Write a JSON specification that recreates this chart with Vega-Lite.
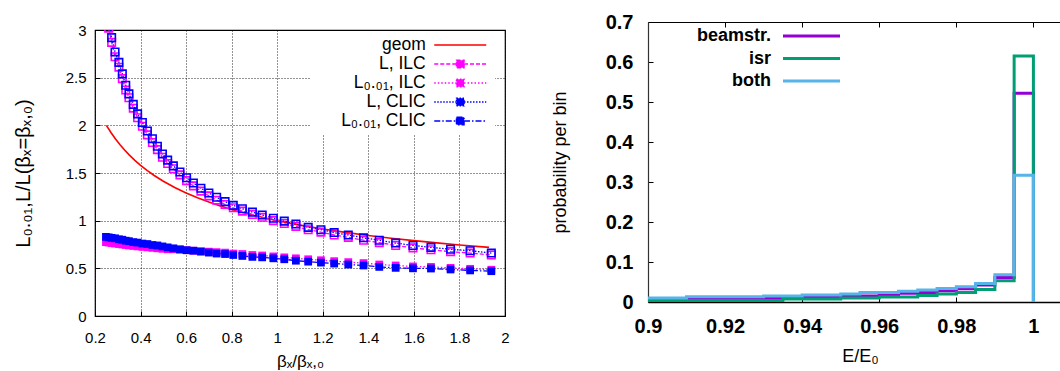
{
  "$schema": "https://vega.github.io/schema/vega-lite/v6.json",
  "background": "white",
  "padding": {"left": 12, "top": 12, "right": 0, "bottom": 0},
  "spacing": 40,
  "resolve": {"scale": {"color": "independent", "strokeDash": "independent"}, "legend": {"color": "independent"}},
  "config": {
    "font": "Liberation Sans",
    "axis": {"labelColor": "#000", "titleColor": "#000", "labelFlush": false, "labelOverlap": false, "labelBound": false, "titleFontWeight": "normal"},
    "legend": {"labelColor": "#000"}
  },
  "datasets": {
    "left": [
      {"b": 0.248, "Lc": 3.25, "Li": 3.2, "L1c": 0.83, "L1i": 0.775},
      {"b": 0.26, "Lc": 3.07, "Li": 3.02, "L1c": 0.825, "L1i": 0.77},
      {"b": 0.273, "Lc": 2.92, "Li": 2.87, "L1c": 0.82, "L1i": 0.765},
      {"b": 0.288, "Lc": 2.77, "Li": 2.72, "L1c": 0.815, "L1i": 0.76},
      {"b": 0.305, "Lc": 2.66, "Li": 2.61, "L1c": 0.805, "L1i": 0.755},
      {"b": 0.32, "Lc": 2.54, "Li": 2.49, "L1c": 0.8, "L1i": 0.75},
      {"b": 0.335, "Lc": 2.42, "Li": 2.37, "L1c": 0.79, "L1i": 0.745},
      {"b": 0.349, "Lc": 2.33, "Li": 2.29, "L1c": 0.785, "L1i": 0.74},
      {"b": 0.368, "Lc": 2.22, "Li": 2.18, "L1c": 0.775, "L1i": 0.735},
      {"b": 0.387, "Lc": 2.12, "Li": 2.08, "L1c": 0.77, "L1i": 0.73},
      {"b": 0.408, "Lc": 2.03, "Li": 1.99, "L1c": 0.76, "L1i": 0.725},
      {"b": 0.43, "Lc": 1.94, "Li": 1.9, "L1c": 0.755, "L1i": 0.72},
      {"b": 0.452, "Lc": 1.86, "Li": 1.82, "L1c": 0.745, "L1i": 0.715},
      {"b": 0.474, "Lc": 1.78, "Li": 1.745, "L1c": 0.74, "L1i": 0.71},
      {"b": 0.496, "Lc": 1.7, "Li": 1.665, "L1c": 0.73, "L1i": 0.705},
      {"b": 0.519, "Lc": 1.635, "Li": 1.6, "L1c": 0.72, "L1i": 0.7},
      {"b": 0.544, "Lc": 1.575, "Li": 1.545, "L1c": 0.71, "L1i": 0.7},
      {"b": 0.573, "Lc": 1.51, "Li": 1.48, "L1c": 0.7, "L1i": 0.695},
      {"b": 0.602, "Lc": 1.45, "Li": 1.42, "L1c": 0.69, "L1i": 0.69},
      {"b": 0.632, "Lc": 1.395, "Li": 1.365, "L1c": 0.685, "L1i": 0.685},
      {"b": 0.665, "Lc": 1.34, "Li": 1.31, "L1c": 0.675, "L1i": 0.68},
      {"b": 0.7, "Lc": 1.29, "Li": 1.26, "L1c": 0.665, "L1i": 0.675},
      {"b": 0.734, "Lc": 1.245, "Li": 1.215, "L1c": 0.655, "L1i": 0.67},
      {"b": 0.771, "Lc": 1.2, "Li": 1.17, "L1c": 0.65, "L1i": 0.665},
      {"b": 0.807, "Lc": 1.16, "Li": 1.135, "L1c": 0.64, "L1i": 0.655},
      {"b": 0.847, "Lc": 1.125, "Li": 1.1, "L1c": 0.63, "L1i": 0.65},
      {"b": 0.891, "Lc": 1.09, "Li": 1.065, "L1c": 0.62, "L1i": 0.64},
      {"b": 0.934, "Lc": 1.06, "Li": 1.035, "L1c": 0.615, "L1i": 0.635},
      {"b": 0.983, "Lc": 1.025, "Li": 1.0, "L1c": 0.605, "L1i": 0.625},
      {"b": 1.031, "Lc": 0.995, "Li": 0.97, "L1c": 0.595, "L1i": 0.615},
      {"b": 1.082, "Lc": 0.965, "Li": 0.94, "L1c": 0.58, "L1i": 0.605},
      {"b": 1.136, "Lc": 0.93, "Li": 0.905, "L1c": 0.57, "L1i": 0.595},
      {"b": 1.192, "Lc": 0.905, "Li": 0.88, "L1c": 0.56, "L1i": 0.585},
      {"b": 1.25, "Lc": 0.875, "Li": 0.85, "L1c": 0.55, "L1i": 0.575},
      {"b": 1.312, "Lc": 0.85, "Li": 0.825, "L1c": 0.54, "L1i": 0.565},
      {"b": 1.379, "Lc": 0.82, "Li": 0.795, "L1c": 0.53, "L1i": 0.555},
      {"b": 1.448, "Lc": 0.795, "Li": 0.77, "L1c": 0.515, "L1i": 0.54},
      {"b": 1.52, "Lc": 0.765, "Li": 0.74, "L1c": 0.505, "L1i": 0.53},
      {"b": 1.596, "Lc": 0.74, "Li": 0.715, "L1c": 0.5, "L1i": 0.52},
      {"b": 1.675, "Lc": 0.72, "Li": 0.695, "L1c": 0.498, "L1i": 0.515},
      {"b": 1.761, "Lc": 0.7, "Li": 0.675, "L1c": 0.488, "L1i": 0.505},
      {"b": 1.847, "Lc": 0.685, "Li": 0.66, "L1c": 0.478, "L1i": 0.495},
      {"b": 1.94, "Lc": 0.66, "Li": 0.64, "L1c": 0.47, "L1i": 0.485}
    ],
    "geom": [
      {"b": 0.25, "geom": 2.0}, {"b": 0.27, "geom": 1.925}, {"b": 0.29, "geom": 1.857},
      {"b": 0.31, "geom": 1.796}, {"b": 0.33, "geom": 1.741}, {"b": 0.35, "geom": 1.69},
      {"b": 0.375, "geom": 1.633}, {"b": 0.4, "geom": 1.581}, {"b": 0.43, "geom": 1.525},
      {"b": 0.46, "geom": 1.474}, {"b": 0.5, "geom": 1.414}, {"b": 0.55, "geom": 1.348},
      {"b": 0.6, "geom": 1.291}, {"b": 0.65, "geom": 1.24}, {"b": 0.7, "geom": 1.195},
      {"b": 0.75, "geom": 1.155}, {"b": 0.8, "geom": 1.118}, {"b": 0.9, "geom": 1.054},
      {"b": 1.0, "geom": 1.0}, {"b": 1.1, "geom": 0.953}, {"b": 1.2, "geom": 0.913},
      {"b": 1.3, "geom": 0.877}, {"b": 1.4, "geom": 0.845}, {"b": 1.5, "geom": 0.816},
      {"b": 1.6, "geom": 0.791}, {"b": 1.7, "geom": 0.767}, {"b": 1.8, "geom": 0.745},
      {"b": 1.93, "geom": 0.72}
    ],
    "hist": [
      {"e": 0.9, "beamstr": 0.007, "isr": 0.004, "both": 0.010},
      {"e": 0.905, "beamstr": 0.007, "isr": 0.004, "both": 0.010},
      {"e": 0.91, "beamstr": 0.008, "isr": 0.004, "both": 0.013},
      {"e": 0.915, "beamstr": 0.008, "isr": 0.004, "both": 0.013},
      {"e": 0.92, "beamstr": 0.008, "isr": 0.004, "both": 0.013},
      {"e": 0.925, "beamstr": 0.008, "isr": 0.004, "both": 0.013},
      {"e": 0.93, "beamstr": 0.0092, "isr": 0.004, "both": 0.015},
      {"e": 0.935, "beamstr": 0.0095, "isr": 0.0075, "both": 0.015},
      {"e": 0.94, "beamstr": 0.0117, "isr": 0.0075, "both": 0.0175},
      {"e": 0.945, "beamstr": 0.0117, "isr": 0.0075, "both": 0.0175},
      {"e": 0.95, "beamstr": 0.015, "isr": 0.01, "both": 0.020},
      {"e": 0.955, "beamstr": 0.015, "isr": 0.01, "both": 0.0235},
      {"e": 0.96, "beamstr": 0.018, "isr": 0.0125, "both": 0.0235},
      {"e": 0.965, "beamstr": 0.0217, "isr": 0.0125, "both": 0.027},
      {"e": 0.97, "beamstr": 0.024, "isr": 0.016, "both": 0.030},
      {"e": 0.975, "beamstr": 0.028, "isr": 0.02, "both": 0.034},
      {"e": 0.98, "beamstr": 0.033, "isr": 0.024, "both": 0.038},
      {"e": 0.985, "beamstr": 0.0425, "isr": 0.031, "both": 0.0465},
      {"e": 0.99, "beamstr": 0.061, "isr": 0.053, "both": 0.068},
      {"e": 0.995, "beamstr": 0.522, "isr": 0.615, "both": 0.317},
      {"e": 1.0, "beamstr": 0, "isr": 0, "both": 0}
    ]
  },
  "hconcat": [
    {
      "bounds": "flush",
      "spacing": 0,
      "vconcat": [
        {"width": 410, "height": 8, "view": {"stroke": null}, "data": {"values": []}, "mark": "point"},
        {
          "width": 410,
          "height": 286,
          "view": {"stroke": "#000", "strokeWidth": 1.2},
          "layer": [
            {
              "data": {"name": "geom"},
              "transform": [{"fold": ["geom"], "as": ["s", "v"]}],
              "mark": {"type": "line", "strokeWidth": 1.6, "clip": true},
              "encoding": {
                "x": {"field": "b", "type": "quantitative",
                  "scale": {"domain": [0.2, 2], "nice": false, "zero": false},
                  "axis": {"values": [0.2, 0.4, 0.6, 0.8, 1, 1.2, 1.4, 1.6, 1.8, 2], "format": "~g", "grid": true, "gridColor": "#000", "gridDash": [1, 2], "gridOpacity": 0.85, "domain": false, "tickSize": -5, "tickColor": "#000", "labelFontSize": 15, "labelPadding": 19, "labelOverlap": false, "title": "βₓ/βₓ,₀", "titleFontSize": 17, "titleY": 50, "titleBaseline": "alphabetic"}},
                "y": {"field": "v", "type": "quantitative",
                  "scale": {"domain": [0, 3], "nice": false},
                  "axis": {"values": [0, 0.5, 1, 1.5, 2, 2.5, 3], "format": "~g", "grid": true, "gridColor": "#000", "gridDash": [1, 2], "gridOpacity": 0.85, "domain": false, "tickSize": -5, "tickColor": "#000", "labelFontSize": 15, "labelPadding": 14, "labelOverlap": false, "title": "L₀.₀₁,L/L(βₓ=βₓ,₀)", "titleFontSize": 20, "titleX": -66, "titleBaseline": "alphabetic"}},
                "color": {"field": "s", "type": "nominal",
                  "scale": {"domain": ["geom", "Li", "L1i", "Lc", "L1c"], "range": ["#ff0000", "#ff00ff", "#ff00ff", "#0000ff", "#0000ff"]},
                  "legend": {
                    "orient": "none", "legendX": 215, "legendY": 9, "direction": "vertical", "title": null,
                    "padding": 5, "fillColor": "white", "labelFontSize": 17.5, "labelAlign": "right",
                    "labelOffset": -43.5, "symbolOffset": 136.25, "symbolSize": 256, "symbolStrokeWidth": 1.5,
                    "rowPadding": 1, "labelLimit": 250,
                    "labelExpr": "datum.label == 'Li' ? 'L, ILC' : datum.label == 'L1i' ? 'L₀.₀₁, ILC' : datum.label == 'Lc' ? 'L, CLIC' : datum.label == 'L1c' ? 'L₀.₀₁, CLIC' : datum.label",
                    "encode": {"symbols": {"update": {
                      "shape": {"signal": "datum.value == 'geom' ? 'M-3.25,0H3.25' : 'M-3.25,0H-0.47M0.47,0H3.25M-0.47,-0.47H0.47V0.47H-0.47Z'"},
                      "fill": {"signal": "datum.value == 'L1i' ? '#ff00ff' : datum.value == 'L1c' ? '#0000ff' : 'transparent'"},
                      "stroke": {"signal": "datum.value == 'geom' ? '#ff0000' : (datum.value == 'Li' || datum.value == 'L1i') ? '#ff00ff' : '#0000ff'"},
                      "strokeDash": {"signal": "datum.value == 'Li' ? [4, 2] : datum.value == 'L1i' ? [1.5, 2] : datum.value == 'Lc' ? [1.5, 1.5] : datum.value == 'L1c' ? [6, 2, 1.5, 2] : [1, 0]"},
                      "strokeWidth": {"value": 1.5},
                      "opacity": {"value": 1}
                    }}}
                  }}
              }
            },
            {
              "data": {"name": "left"},
              "transform": [{"fold": ["Li", "L1i", "Lc", "L1c"], "as": ["s", "v"]}],
              "mark": {"type": "line", "strokeWidth": 1.3, "clip": true},
              "encoding": {
                "x": {"field": "b", "type": "quantitative"},
                "y": {"field": "v", "type": "quantitative"},
                "color": {"field": "s", "type": "nominal"},
                "strokeDash": {"field": "s", "type": "nominal", "legend": null,
                  "scale": {"domain": ["geom", "Li", "L1i", "Lc", "L1c"], "range": [[1, 0], [4, 2], [1.5, 2], [1.5, 1.5], [6, 2, 1.5, 2]]}}
              }
            },
            {
              "data": {"name": "left"},
              "transform": [{"fold": ["Li"], "as": ["s", "v"]}],
              "mark": {"type": "point", "shape": "square", "filled": false, "size": 56, "strokeWidth": 1.6, "opacity": 1, "clip": true},
              "encoding": {"x": {"field": "b", "type": "quantitative"}, "y": {"field": "v", "type": "quantitative"}, "color": {"field": "s", "type": "nominal"}}
            },
            {
              "data": {"name": "left"},
              "transform": [{"fold": ["L1i"], "as": ["s", "v"]}],
              "mark": {"type": "point", "shape": "square", "filled": true, "size": 60, "opacity": 1, "clip": true},
              "encoding": {"x": {"field": "b", "type": "quantitative"}, "y": {"field": "v", "type": "quantitative"}, "color": {"field": "s", "type": "nominal"}}
            },
            {
              "data": {"name": "left"},
              "transform": [{"fold": ["Lc"], "as": ["s", "v"]}],
              "mark": {"type": "point", "shape": "square", "filled": false, "size": 56, "strokeWidth": 1.6, "opacity": 1, "clip": true},
              "encoding": {"x": {"field": "b", "type": "quantitative"}, "y": {"field": "v", "type": "quantitative"}, "color": {"field": "s", "type": "nominal"}}
            },
            {
              "data": {"name": "left"},
              "transform": [{"fold": ["L1c"], "as": ["s", "v"]}],
              "mark": {"type": "point", "shape": "square", "filled": true, "size": 60, "opacity": 1, "clip": true},
              "encoding": {"x": {"field": "b", "type": "quantitative"}, "y": {"field": "v", "type": "quantitative"}, "color": {"field": "s", "type": "nominal"}}
            }
          ]
        }
      ]
    },
    {
      "width": 412,
      "height": 280,
      "view": {"stroke": null},
      "data": {"name": "hist"},
      "transform": [{"fold": ["beamstr", "isr", "both"], "as": ["s", "v"]}],
      "resolve": {"axis": {"x": "independent"}},
      "encoding": {
        "y": {"field": "v", "type": "quantitative",
          "scale": {"domain": [0, 0.7], "nice": false},
          "axis": {"values": [0, 0.1, 0.2, 0.3, 0.4, 0.5, 0.6, 0.7], "format": "~g", "grid": false, "tickSize": -5, "tickColor": "#000", "domainColor": "#333", "domainWidth": 1.2, "labelFontSize": 20, "labelFontWeight": "bold", "labelPadding": 20, "labelOverlap": false, "labelBound": false, "title": "probability per bin", "titleFontSize": 18, "titleX": -83, "titleBaseline": "alphabetic"}},
        "color": {"field": "s", "type": "nominal",
          "scale": {"domain": ["beamstr", "isr", "both"], "range": ["#9400d3", "#009e73", "#56b4e9"]},
          "legend": {"orient": "none", "legendX": 20, "legendY": 4.5, "title": null, "padding": 0,
            "labelFontSize": 18, "labelFontWeight": "bold", "labelAlign": "right", "labelOffset": -50,
            "symbolOffset": 134, "symbolSize": 256, "symbolStrokeWidth": 3, "symbolType": "M-3.5625,0H3.5625",
            "rowPadding": 3.5,
            "labelExpr": "datum.label == 'beamstr' ? 'beamstr.' : datum.label"}}
      },
      "layer": [
        {
          "transform": [{"filter": "datum.s == 'beamstr'"}],
          "mark": {"type": "line", "interpolate": "step-after", "strokeWidth": 3, "clip": true},
          "encoding": {
            "x": {"field": "e", "type": "quantitative",
              "scale": {"domain": [0.9, 1.0069], "nice": false, "zero": false},
              "axis": {"values": [0.9, 0.92, 0.94, 0.96, 0.98, 1], "format": "~g", "grid": false, "tickSize": -5, "tickColor": "#000", "domainColor": "#000", "domainWidth": 1.5, "labelFontSize": 20, "labelFontWeight": "bold", "labelPadding": 19, "labelOverlap": false, "title": "E/E₀", "titleFontSize": 18, "titleX": 212, "titleY": 59.7, "titleBaseline": "alphabetic"}}
          }
        },
        {
          "transform": [{"filter": "datum.s == 'isr'"}],
          "mark": {"type": "line", "interpolate": "step-after", "strokeWidth": 3, "clip": true},
          "encoding": {
            "x": {"field": "e", "type": "quantitative", "axis": null}
          }
        },
        {
          "transform": [{"filter": "datum.s == 'both'"}],
          "mark": {"type": "line", "interpolate": "step-after", "strokeWidth": 3, "clip": true},
          "encoding": {
            "x": {"field": "e", "type": "quantitative", "axis": null}
          }
        },
        {
          "transform": [{"filter": "datum.s == 'both'"}],
          "mark": {"type": "line", "opacity": 0, "clip": true},
          "encoding": {
            "x": {"field": "e", "type": "quantitative",
              "axis": {"orient": "top", "values": [0.9, 0.92, 0.94, 0.96, 0.98, 1], "labels": false, "title": null, "tickSize": -5, "tickColor": "#000", "domainColor": "#000", "domainWidth": 1.2, "grid": false}}
          }
        }
      ]
    }
  ]
}
